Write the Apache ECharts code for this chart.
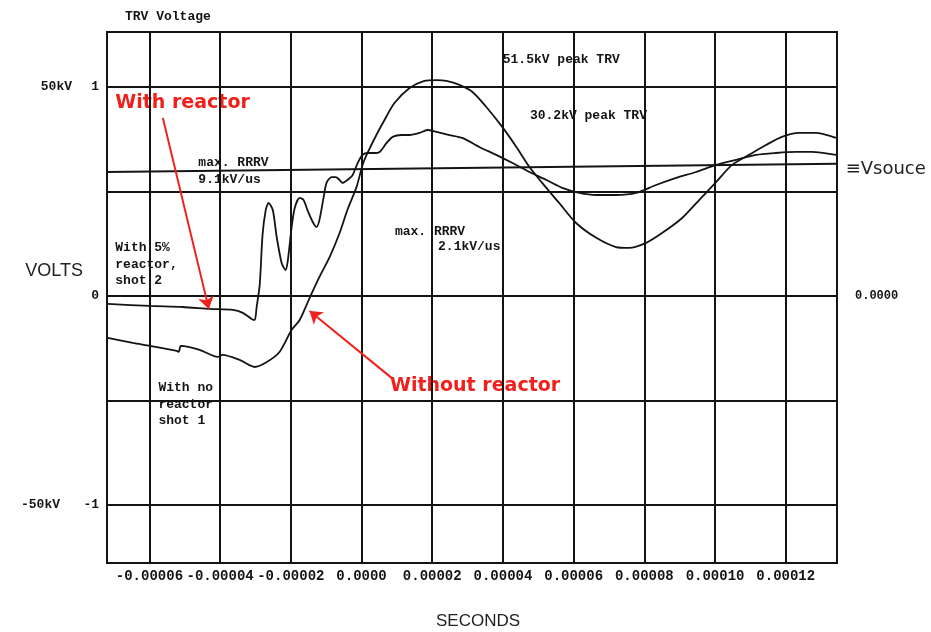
<!DOCTYPE html>
<html><head><meta charset="utf-8">
<script src="https://cdn.jsdelivr.net/npm/echarts@6/dist/echarts.min.js"></script>
<style>html,body{margin:0;padding:0;background:#fff}#c{width:931px;height:632px}</style>
</head><body><div id="c"></div>
<script>
// x in microseconds, y in per-unit (1 = 50 kV)
const xTickValues = [-60, -40, -20, 0, 20, 40, 60, 80, 100, 120];
const xTickLabels = ['-0.00006', '-0.00004', '-0.00002', '0.0000', '0.00002', '0.00004', '0.00006', '0.00008', '0.00010', '0.00012'];
const yGridValues = [-1, -0.5, 0, 0.5, 1];
const yTickValues = [1, 0, -1];
const yTickLabels = ['1', '0', '-1'];
const kvTickValues = [1, -1];
const kvTickLabels = ['50kV', '-50kV'];
const rightTickValues = [0];
const rightTickLabels = ['0.0000'];

const withReactorT = [-71.8, -59.9, -50.6, -42.9, -36.4, -33.6, -31.1, -30.2, -29.7, -28.8, -28.0, -27.1, -26.3, -25.1, -24.0, -22.6, -21.5, -20.9, -19.8, -18.9, -17.5, -16.4, -15.3, -13.8, -12.7, -11.9, -10.7, -9.9, -8.5, -7.3, -6.2, -5.4, -4.0, -2.5, -1.1, 0.3, 1.7, 3.7, 5.1, 7.1, 8.8, 11.3, 13.6, 16.4, 18.6, 21.2, 24.9, 28.5, 33.3, 38.1, 42.7, 47.5, 52.3, 56.8, 61.6, 66.4, 72.0, 77.7, 83.3, 89.0, 94.6, 100.3, 105.9, 111.6, 117.2, 122.9, 127.4, 134.2];
const withReactorV = [-0.038, -0.048, -0.053, -0.062, -0.067, -0.081, -0.110, -0.115, -0.057, 0.053, 0.292, 0.411, 0.445, 0.411, 0.282, 0.158, 0.124, 0.163, 0.325, 0.421, 0.469, 0.459, 0.411, 0.354, 0.330, 0.364, 0.474, 0.541, 0.569, 0.569, 0.555, 0.541, 0.555, 0.579, 0.636, 0.675, 0.684, 0.684, 0.689, 0.732, 0.761, 0.770, 0.770, 0.780, 0.794, 0.785, 0.770, 0.756, 0.713, 0.675, 0.636, 0.593, 0.555, 0.517, 0.493, 0.483, 0.483, 0.493, 0.531, 0.565, 0.593, 0.627, 0.651, 0.675, 0.684, 0.689, 0.689, 0.675];

const withoutReactorT = [-71.8, -64.7, -59.9, -52.3, -51.7, -51.1, -45.8, -40.7, -39.3, -34.5, -30.2, -26.8, -23.2, -19.8, -17.5, -14.7, -11.9, -9.0, -6.2, -4.0, -1.4, 0.3, 1.7, 4.2, 6.5, 9.3, 13.6, 17.8, 21.2, 24.0, 27.7, 31.4, 35.3, 39.8, 43.8, 47.5, 51.1, 55.9, 60.7, 66.4, 72.0, 75.7, 80.5, 85.0, 90.7, 95.5, 100.3, 104.8, 109.6, 114.4, 118.9, 123.7, 128.5, 134.2];
const withoutReactorV = [-0.201, -0.225, -0.239, -0.263, -0.268, -0.239, -0.258, -0.292, -0.282, -0.306, -0.340, -0.316, -0.268, -0.163, -0.115, -0.010, 0.091, 0.187, 0.301, 0.411, 0.522, 0.627, 0.684, 0.770, 0.842, 0.923, 0.995, 1.029, 1.033, 1.029, 1.010, 0.976, 0.904, 0.809, 0.713, 0.617, 0.541, 0.445, 0.349, 0.278, 0.234, 0.230, 0.254, 0.301, 0.373, 0.459, 0.545, 0.627, 0.675, 0.722, 0.761, 0.780, 0.780, 0.756];

const vsourceT = [-72, 134.5];
const vsourceV = [0.593, 0.632];

const monoNoteTexts = ['51.5kV peak TRV', '30.2kV peak TRV', 'max. RRRV', '9.1kV/us', 'max. RRRV', '2.1kV/us', 'With 5%', 'reactor,', 'shot 2', 'With no', 'reactor', 'shot 1'];
const monoNoteT = [39.8, 47.5, -46.3, -46.3, 9.3, 21.5, -69.8, -69.8, -69.8, -57.6, -57.6, -57.6];
const monoNoteV = [1.129, 0.861, 0.636, 0.555, 0.306, 0.234, 0.230, 0.148, 0.072, -0.440, -0.522, -0.598];

const redNoteTexts = ['With reactor', 'Without reactor'];
const redNoteT = [-69.8, 7.9];
const redNoteV = [0.923, -0.431];
const arrowFromT = [-56.2, 8.5];
const arrowFromV = [0.852, -0.392];
const arrowToT = [-43.2, -14.7];
const arrowToV = [-0.062, -0.072];

const sourceNoteTexts = ['\u2261Vsouce'];
const sourceNoteT = [136.8];
const sourceNoteV = [0.605];

const X_MIN = -72, X_MAX = 134.5, Y_MIN = -1.278, Y_MAX = 1.263;
const INK = '#141414';
const RED = '#f0201c';
const MONO = '"Liberation Mono", "DejaVu Sans Mono", monospace';

function pairs(t, v) { return t.map((x, i) => [x, v[i]]); }
function labelFor(values, labels) {
  return function (val) {
    for (let i = 0; i < values.length; i++) if (Math.abs(values[i] - val) < 1e-6) return labels[i];
    return '';
  };
}
function noteSeries(name, t, v, texts, textStyle) {
  return {
    name: name, type: 'scatter', symbolSize: 1, clip: false, silent: true,
    itemStyle: { opacity: 0 },
    data: t.map((x, i) => [x, v[i], texts[i]]),
    label: Object.assign({ show: true, position: 'right', distance: 0, align: 'left', verticalAlign: 'middle', opacity: 1, formatter: p => p.data[2] }, textStyle),
    labelLayout: { hideOverlap: false }
  };
}

const chart = echarts.init(document.getElementById('c'), null, { renderer: 'canvas' });
chart.setOption({
  animation: false,
  backgroundColor: '#fff',
  title: {
    text: 'TRV Voltage', left: 120, top: 5,
    textStyle: { fontFamily: MONO, fontWeight: 'bold', fontSize: 13, color: INK }
  },
  grid: { left: 107, right: 94, top: 32, bottom: 69, containLabel: false, outerBoundsMode: 'none', show: true, borderColor: INK, borderWidth: 2, backgroundColor: 'transparent' },
  xAxis: {
    type: 'value', min: X_MIN, max: X_MAX,
    splitLine: { show: false }, axisLine: { show: false },
    axisTick: { show: true, customValues: xTickValues, length: 3, lineStyle: { color: INK, width: 2 } },
    axisLabel: { customValues: xTickValues, hideOverlap: false, showMinLabel: true, showMaxLabel: true, formatter: labelFor(xTickValues, xTickLabels), fontFamily: MONO, fontWeight: 'bold', fontSize: 14, color: INK, margin: 6 },
    name: 'SECONDS', nameLocation: 'middle', nameGap: 50, nameMoveOverlap: false,
    nameTextStyle: { fontFamily: '"Liberation Sans", Arial, sans-serif', fontSize: 17, color: '#222', padding: [0, 0, 0, 12] }
  },
  yAxis: [
    {
      type: 'value', min: Y_MIN, max: Y_MAX, position: 'left',
      splitLine: { show: false }, axisLine: { show: false },
      axisTick: { show: true, customValues: yTickValues, length: 6, lineStyle: { color: INK, width: 2 } },
      axisLabel: { customValues: yTickValues, hideOverlap: false, showMinLabel: true, showMaxLabel: true, formatter: labelFor(yTickValues, yTickLabels), fontFamily: MONO, fontWeight: 'bold', fontSize: 13, color: INK, margin: 8 }
    },
    {
      type: 'value', min: Y_MIN, max: Y_MAX, position: 'left',
      splitLine: { show: false }, axisLine: { show: false }, axisTick: { show: false },
      axisLabel: {
        customValues: kvTickValues, hideOverlap: false,
        formatter: function (v) { const s = labelFor(kvTickValues, kvTickLabels)(v); return v < 0 ? '{b|' + s + '}' : '{a|' + s + '}'; },
        rich: { a: { fontFamily: MONO, fontWeight: 'bold', fontSize: 13, color: INK }, b: { fontFamily: MONO, fontWeight: 'bold', fontSize: 13, color: INK, padding: [0, 12, 0, 0] } },
        margin: 35
      },
      name: 'VOLTS\n\n', nameLocation: 'middle', nameGap: 24, nameRotate: 0, nameMoveOverlap: false,
      nameTextStyle: { fontFamily: '"Liberation Sans", Arial, sans-serif', fontSize: 18, lineHeight: 26, color: '#222' }
    },
    {
      type: 'value', min: Y_MIN, max: Y_MAX, position: 'right',
      splitLine: { show: false }, axisLine: { show: false }, axisTick: { show: false },
      axisLabel: { customValues: rightTickValues, formatter: labelFor(rightTickValues, rightTickLabels), fontFamily: MONO, fontWeight: 'bold', fontSize: 12, color: INK, margin: 18 }
    }
  ],
  series: [
    {
      name: 'Vsource', type: 'line', data: pairs(vsourceT, vsourceV), showSymbol: false, silent: true,
      lineStyle: { color: INK, width: 2 },
      markLine: {
        silent: true, symbol: ['none', 'none'], label: { show: false },
        lineStyle: { color: INK, width: 2, type: 'solid' },
        data: xTickValues.map(v => ({ xAxis: v })).concat(yGridValues.map(v => ({ yAxis: v })))
      }
    },
    {
      name: 'With 5% reactor, shot 2', type: 'line', data: pairs(withReactorT, withReactorV), showSymbol: false, smooth: 0.25,
      lineStyle: { color: INK, width: 1.8 },
      markLine: {
        silent: true, symbol: ['none', 'arrow'], symbolSize: 12, label: { show: false },
        itemStyle: { color: RED },
        lineStyle: { color: RED, width: 2, type: 'solid', opacity: 1 },
        data: arrowFromT.map((t, i) => [{ coord: [t, arrowFromV[i]] }, { coord: [arrowToT[i], arrowToV[i]] }])
      }
    },
    {
      name: 'With no reactor, shot 1', type: 'line', data: pairs(withoutReactorT, withoutReactorV), showSymbol: false, smooth: 0.25,
      lineStyle: { color: INK, width: 1.8 }
    },
    noteSeries('notes', monoNoteT, monoNoteV, monoNoteTexts, { fontFamily: MONO, fontWeight: 'bold', fontSize: 13, color: INK }),
    noteSeries('red notes', redNoteT, redNoteV, redNoteTexts, { fontFamily: '"DejaVu Sans", sans-serif', fontWeight: 'bold', fontSize: 19, color: RED }),
    noteSeries('source note', sourceNoteT, sourceNoteV, sourceNoteTexts, { fontFamily: '"DejaVu Sans", sans-serif', fontSize: 18, color: '#222' })
  ]
});
</script>
</body></html>
